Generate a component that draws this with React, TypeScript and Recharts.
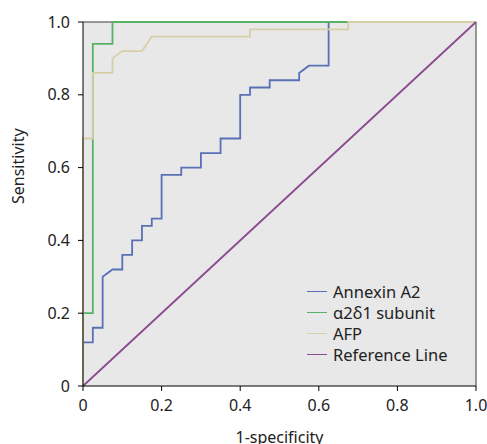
import React from "react"
import {
  LineChart,
  Line,
  XAxis,
  YAxis,
  CartesianGrid,
  ReferenceLine,
} from "recharts"

// ROC curves (x = 1-specificity, y = sensitivity)
const annexinX = [0, 0, 0.025, 0.025, 0.05, 0.05, 0.075, 0.1, 0.1, 0.125, 0.125, 0.15, 0.15, 0.175, 0.175, 0.2, 0.2, 0.25, 0.25, 0.3, 0.3, 0.35, 0.35, 0.4, 0.4, 0.425, 0.425, 0.475, 0.475, 0.55, 0.55, 0.575, 0.625, 0.625, 1]
const annexinY = [0, 0.12, 0.12, 0.16, 0.16, 0.3, 0.32, 0.32, 0.36, 0.36, 0.4, 0.4, 0.44, 0.44, 0.46, 0.46, 0.58, 0.58, 0.6, 0.6, 0.64, 0.64, 0.68, 0.68, 0.8, 0.8, 0.82, 0.82, 0.84, 0.84, 0.86, 0.88, 0.88, 1, 1]

const subunitX = [0, 0, 0.025, 0.025, 0.075, 0.075, 1]
const subunitY = [0, 0.2, 0.2, 0.94, 0.94, 1, 1]

const afpX = [0, 0, 0.025, 0.025, 0.075, 0.075, 0.1, 0.15, 0.175, 0.425, 0.425, 0.675, 0.675, 1]
const afpY = [0, 0.68, 0.68, 0.86, 0.86, 0.9, 0.92, 0.92, 0.96, 0.96, 0.98, 0.98, 1, 1]

const refX = [0, 1]
const refY = [0, 1]

const ticks = [0, 0.2, 0.4, 0.6, 0.8, 1.0]

const zip = (xs: number[], ys: number[]) => xs.map((x, i) => ({ x, y: ys[i] }))

const series = [
  { name: "Annexin A2", color: "#5a70b6", data: zip(annexinX, annexinY) },
  { name: "α2δ1 subunit", color: "#55b267", data: zip(subunitX, subunitY) },
  { name: "AFP", color: "#d5d0a6", data: zip(afpX, afpY) },
  { name: "Reference Line", color: "#8c4a90", data: zip(refX, refY) },
]

const font = "'Noto Sans', 'Open Sans', sans-serif"
const fmt = (v: number) => (v === 0 ? "0" : v.toFixed(1))

export default function App() {
  return (
    <div style={{ position: "absolute", left: 0, top: 0, background: "#fff" }}>
      <LineChart width={487} height={444} margin={{ top: 22, right: 11, left: 0, bottom: 0 }}>
        <CartesianGrid horizontal={false} vertical={false} fill="#e8e8e8" />
        <XAxis
          type="number"
          dataKey="x"
          domain={[0, 1]}
          ticks={ticks}
          tickFormatter={fmt}
          height={58}
          tickSize={5}
          tickMargin={9}
          stroke="#000"
          tick={{ fill: "#222", fontSize: 16, fontFamily: font }}
          label={{ value: "1-specificity", position: "insideBottom", offset: 1, fill: "#222", fontSize: 16, fontFamily: font }}
          allowDuplicatedCategory={false}
        />
        <YAxis
          type="number"
          dataKey="y"
          domain={[0, 1]}
          ticks={ticks}
          tickFormatter={fmt}
          width={83}
          tickSize={5}
          tickMargin={8}
          stroke="#000"
          tick={{ fill: "#222", fontSize: 16, fontFamily: font }}
          label={{ value: "Sensitivity", angle: -90, position: "insideLeft", offset: 18, fill: "#222", fontSize: 16, fontFamily: font }}
        />
        <ReferenceLine y={1} stroke="#777" strokeWidth={1.5} />
        <ReferenceLine x={1} stroke="#777" strokeWidth={1.5} />
        {series.map((s) => (
          <Line
            key={s.name}
            data={s.data}
            dataKey="y"
            name={s.name}
            type="linear"
            stroke={s.color}
            strokeWidth={1.8}
            dot={false}
            activeDot={false}
            isAnimationActive={false}
          />
        ))}
      </LineChart>
      <div
        style={{
          position: "absolute",
          left: 307,
          top: 281,
          fontFamily: font,
          fontSize: 16.5,
          color: "#222",
          lineHeight: "21px",
        }}
      >
        {series.map((s) => (
          <div key={s.name} style={{ display: "flex", alignItems: "center" }}>
            <span style={{ display: "inline-block", width: 20, height: 0, borderTop: `1.5px solid ${s.color}`, marginRight: 6 }} />
            <span>{s.name}</span>
          </div>
        ))}
      </div>
    </div>
  )
}
